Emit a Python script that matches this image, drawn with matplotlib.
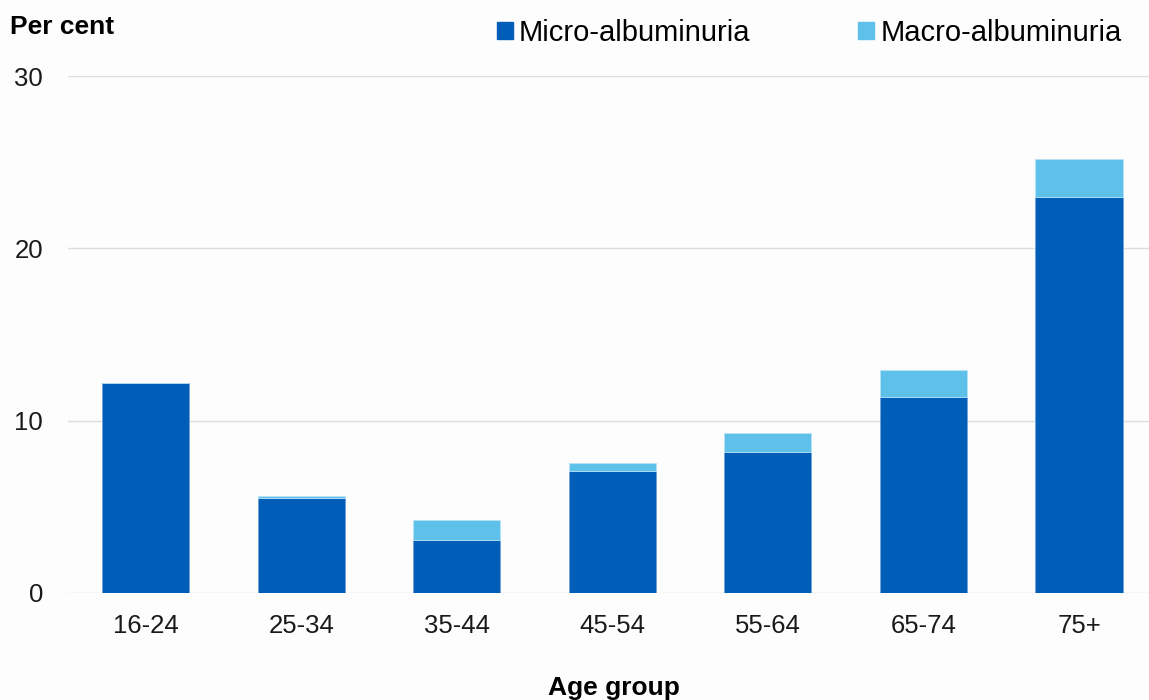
import matplotlib.pyplot as plt
from matplotlib.patches import Patch

plt.rcParams['font.family'] = ['Liberation Sans', 'DejaVu Sans']

# Data
age_groups = ['16-24', '25-34', '35-44', '45-54', '55-64', '65-74', '75+']
micro = [12.2, 5.5, 3.1, 7.1, 8.2, 11.4, 23.0]
macro = [0.0, 0.15, 1.15, 0.45, 1.1, 1.55, 2.2]
yticks = [0, 10, 20, 30]

dark_blue = '#005EB8'
light_blue = '#5EC1EA'
bg = '#fdfdfd'

fig = plt.figure(figsize=(11.49, 7), dpi=100, facecolor=bg)
ax = fig.add_axes([68 / 1149, 1 - 593 / 700, (1149 - 68) / 1149, (593 - 76) / 700])
ax.set_facecolor(bg)

x = range(len(age_groups))
ax.bar(x, micro, width=0.56, color=dark_blue, edgecolor='#6fa3d6', linewidth=0.6, zorder=3)
ax.bar(x, macro, width=0.56, bottom=micro, color=light_blue, edgecolor='#b8e2f5', linewidth=0.6, zorder=3)

ax.set_xlim(-0.5, 6.45)
ax.set_ylim(0, 30)
ax.set_yticks(yticks)
ax.set_xticks(list(x))
ax.set_xticklabels(age_groups)
ax.tick_params(axis='both', length=0, labelsize=18.5, colors='#1a1a1a')
ax.tick_params(axis='x', pad=15)
ax.tick_params(axis='y', pad=18)

ax.grid(axis='y', color='#dcdde3', linewidth=1, zorder=0)
for s in ax.spines.values():
    s.set_visible(False)

fig.text(10 / 1149, 1 - 27 / 700, 'Per cent', fontsize=19, fontweight='bold', va='center', ha='left')
fig.text(614 / 1149, 1 - 688 / 700, 'Age group', fontsize=19, fontweight='bold', va='center', ha='center')

handles = [Patch(color=dark_blue), Patch(color=light_blue)]
fig.legend(handles, ['Micro-albuminuria', 'Macro-albuminuria'],
           loc='center left', bbox_to_anchor=(497 / 1149, 1 - 33 / 700),
           ncol=2, frameon=False, fontsize=21, handlelength=0.55, handleheight=0.55,
           handletextpad=0.2, columnspacing=3.7, borderaxespad=0, borderpad=0)

fig.savefig('out.png', dpi=100, facecolor=bg)
